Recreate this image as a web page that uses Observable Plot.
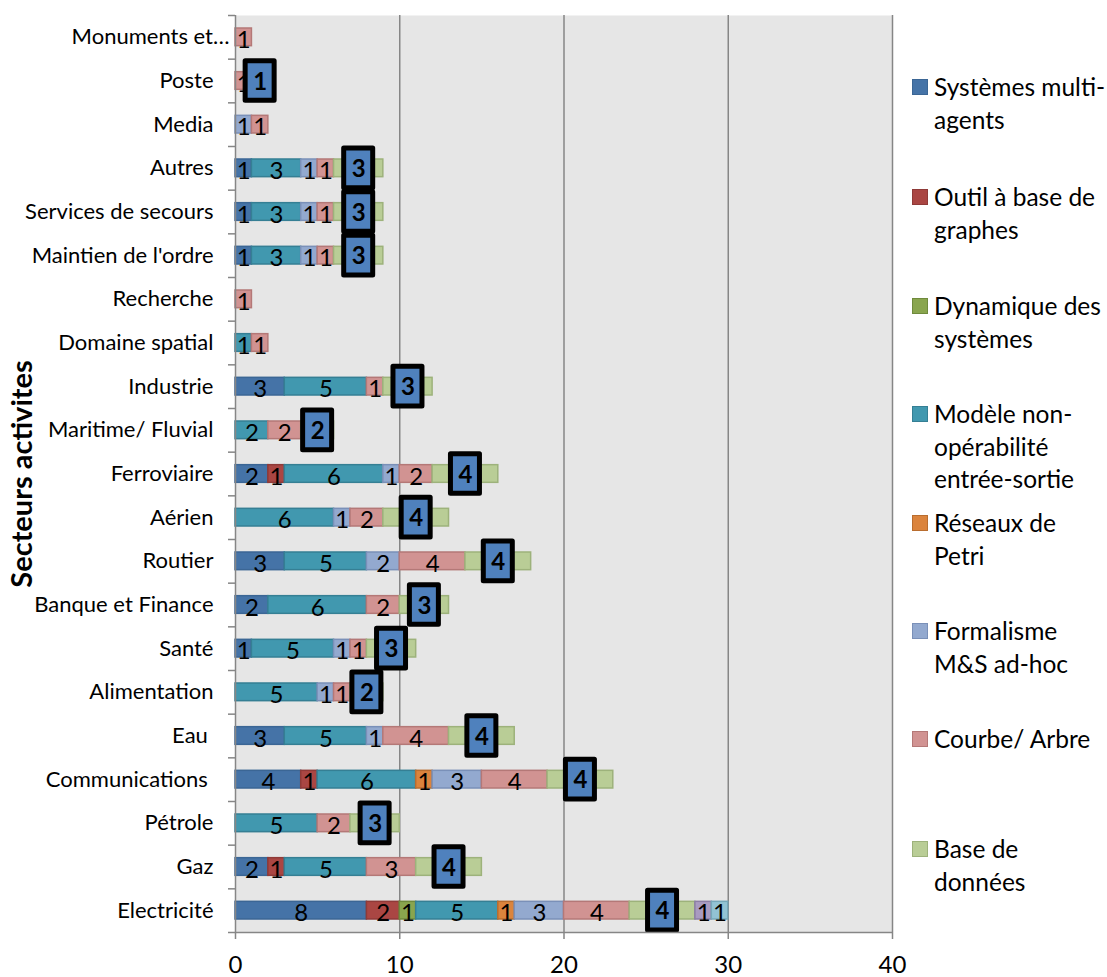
<!DOCTYPE html>
<html><head><meta charset="utf-8">
<script src="https://cdn.jsdelivr.net/npm/d3@7"></script>
<script src="https://cdn.jsdelivr.net/npm/@observablehq/plot@0.6"></script>
<style>
html,body{margin:0;padding:0;background:#fff}
#wrap{position:relative;width:1107px;height:977px;overflow:hidden;font-family:Lato,sans-serif;color:#000}
#wrap svg{position:absolute;left:0;top:0}
.lg{position:absolute;left:934px;font-size:24.5px;line-height:32.5px;white-space:pre}
.sw{position:absolute;left:912px;width:16px;height:16px;box-sizing:border-box;border:1.5px solid}
</style></head><body><div id="wrap"></div>
<script>
const categories = ["Monuments et…","Poste","Media","Autres","Services de secours","Maintien de l'ordre","Recherche","Domaine spatial","Industrie","Maritime/ Fluvial","Ferroviaire","Aérien","Routier","Banque et Finance","Santé","Alimentation","Eau ","Communications ","Pétrole","Gaz","Electricité"];
const seriesNames = ["Systèmes multi-agents","Outil à base de graphes","Dynamique des systèmes","Modèle non-opérabilité entrée-sortie","Réseaux de Petri","Formalisme M&S ad-hoc","Courbe/ Arbre","Base de données","Série 9","Série 10"];
const multiAgents = [0,0,0,1,1,1,0,0,3,0,2,0,3,2,1,0,3,4,0,2,8];
const graphes     = [0,0,0,0,0,0,0,0,0,0,1,0,0,0,0,0,0,1,0,1,2];
const dynamique   = [0,0,0,0,0,0,0,0,0,0,0,0,0,0,0,0,0,0,0,0,1];
const nonOperab   = [0,0,0,3,3,3,0,1,5,2,6,6,5,6,5,5,5,6,5,5,5];
const petri       = [0,0,0,0,0,0,0,0,0,0,0,0,0,0,0,0,0,1,0,0,1];
const adHoc       = [0,0,1,1,1,1,0,0,0,0,1,1,2,0,1,1,1,3,0,0,3];
const courbe      = [1,1,1,1,1,1,1,1,1,2,2,2,4,2,1,1,4,4,2,3,4];
const baseDonnees = [0,1,0,3,3,3,0,0,3,2,4,4,4,3,3,2,4,4,3,4,4];
const serie9      = [0,0,0,0,0,0,0,0,0,0,0,0,0,0,0,0,0,0,0,0,1];
const serie10     = [0,0,0,0,0,0,0,0,0,0,0,0,0,0,0,0,0,0,0,0,1];
const fills   = ["#4573a7","#aa4643","#89a54e","#4198af","#db843d","#93a9cf","#d19392","#b9cd96","#a99bc0","#92c3d4"];
const strokes = ["#3b6695","#8f3a38","#6f8a3c","#357f94","#b96d2f","#7a90b8","#b47877","#9db27b","#8c7ea5","#76a8b9"];
const legendLines = [["Systèmes multi-","agents"],["Outil à base de","graphes"],["Dynamique des","systèmes"],["Modèle non-","opérabilité","entrée-sortie"],["Réseaux de","Petri"],["Formalisme","M&S ad-hoc"],["Courbe/ Arbre"],["Base de","données"]];
const legendTops = [71,181,290,398,507,615,723,833];

const allSeries = [multiAgents,graphes,dynamique,nonOperab,petri,adHoc,courbe,baseDonnees,serie9,serie10];
const rows = [];
categories.forEach((c,i)=>allSeries.forEach((s,j)=>{ if(s[i]>0) rows.push({cat:c,series:seriesNames[j],value:s[i],order:j}); }));
const boxes = categories.map((c,i)=>{
  if(!baseDonnees[i]) return null;
  let start=0; for(let j=0;j<7;j++) start+=allSeries[j][i];
  return {cat:c,mid:start+baseDonnees[i]/2,value:baseDonnees[i]};
}).filter(Boolean);

const W=1107,H=977,mL=235,mR=215,mT=15,mB=45;
const step=(H-mT-mB)/categories.length;
const gray="#868686";
const stack={x:"value",y:"cat",order:null,z:"order"};
const boxW=(34-5)/(W-mL-mR)*40;
const chart=Plot.plot({
  width:W,height:H,marginLeft:mL,marginRight:mR,marginTop:mT,marginBottom:mB,
  style:{background:"transparent",fontFamily:"Lato,sans-serif",color:"#000",overflow:"visible"},
  x:{domain:[0,40],ticks:[0,10,20,30,40]},
  y:{domain:categories,padding:0,round:false,axis:null},
  color:{domain:seriesNames,range:fills},
  marks:[
    Plot.frame({fill:"#e6e6e6",stroke:null}),
    Plot.gridX([10,20,30,40],{stroke:gray,strokeWidth:1.5,strokeOpacity:1}),
    Plot.barX(rows,Plot.stackX({...stack,fill:d=>d.series,stroke:d=>strokes[d.order],strokeWidth:1.5,insetTop:13,insetBottom:13})),
    Plot.text(rows,Plot.stackX({...stack,text:d=>String(d.value),fontSize:24,fill:"#000",dy:3})),
    Plot.barX(boxes,{x1:d=>d.mid-boxW/2,x2:d=>d.mid+boxW/2,y:"cat",fill:"#4f81bd",stroke:"#000",strokeWidth:5,strokeLinejoin:"round",insetTop:2,insetBottom:2}),
    Plot.text(boxes,{x:"mid",y:"cat",text:d=>String(d.value),fontSize:24,fontWeight:700,fill:"#000",dy:1}),
    Plot.axisY(categories.slice(1),{anchor:"left",tickSize:0,tickPadding:22,fontSize:22,color:"#000",label:null}),
    Plot.axisY(categories.slice(0,1),{anchor:"left",tickSize:0,tickPadding:6,fontSize:22,color:"#000",label:null}),
    Plot.axisY(categories,{anchor:"left",tickSize:7,text:null,stroke:gray,strokeWidth:1.5,dy:step/2,label:null}),
    Plot.axisY(categories.slice(0,1),{anchor:"left",tickSize:7,text:null,stroke:gray,strokeWidth:1.5,dy:-step/2,label:null}),
    Plot.ruleX([0],{stroke:gray,strokeWidth:1.5}),
    Plot.axisX([0,10,20,30,40],{tickSize:7,tickPadding:16,fontSize:24,stroke:gray,strokeWidth:1.5,color:"#000",label:null}),
    Plot.ruleY(categories.slice(-1),{stroke:gray,strokeWidth:1.5,dy:step/2,x1:0,x2:40})
  ]
});
const wrap=document.getElementById("wrap");
wrap.appendChild(chart);
const svg=d3.select(chart);
svg.append("text").attr("transform","translate(32,474) rotate(-90)").attr("text-anchor","middle")
  .attr("font-size",29).attr("font-weight",700).attr("font-family","Lato,sans-serif").attr("fill","#000").text("Secteurs activites");
legendLines.forEach((l,i)=>{
  const t=legendTops[i];
  const s=document.createElement("div");s.className="sw";s.style.top=(t+8)+"px";s.style.background=fills[i];s.style.borderColor=strokes[i];wrap.appendChild(s);
  const d=document.createElement("div");d.className="lg";d.style.top=t+"px";d.textContent=l.join("\n");wrap.appendChild(d);
});
</script></body></html>
